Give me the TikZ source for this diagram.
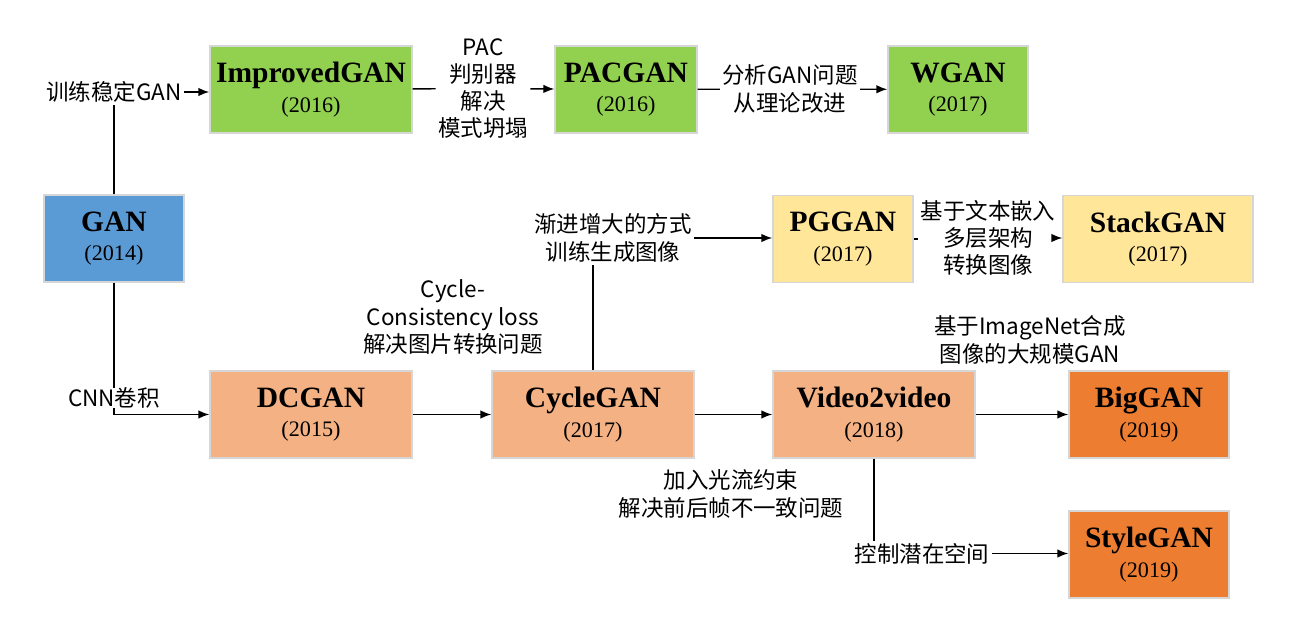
\documentclass[tikz,border=0pt]{standalone}
\usepackage{fontspec}
\setmainfont{Liberation Serif}
\newfontfamily\cjk{Noto Sans CJK SC}
\usetikzlibrary{arrows.meta}
\definecolor{gblue}{HTML}{5B9BD5}
\definecolor{ggreen}{HTML}{92D050}
\definecolor{gyellow}{HTML}{FFE699}
\definecolor{gsalmon}{HTML}{F4B183}
\definecolor{gorange}{HTML}{ED7D31}
\definecolor{gline}{HTML}{D6D6D6}
\newcommand{\mname}[1]{{\fontsize{16.8}{20}\selectfont\bfseries #1}}

\begin{document}
\begin{tikzpicture}[>={Latex[length=2.2mm,width=1.7mm]}, line width=0.8pt,
    model/.style={draw=gline, line width=0.8pt, align=center, inner sep=0pt,
      minimum height=1.74cm, font=\fontsize{12.6}{16.8}\selectfont},
    note/.style={align=center, inner sep=1pt, font=\cjk\fontsize{12.8}{15.5}\selectfont}]
    \useasboundingbox (0,0) rectangle (26.06,-12.68);
    % models
    \node[model, fill=gblue, minimum width=2.8cm] (gan) at (2.28,-4.77) {\mname{GAN}\\(2014)};
    \node[model, fill=ggreen, minimum width=4.04cm] (improved) at (6.22,-1.79) {\mname{ImprovedGAN}\\(2016)};
    \node[model, fill=ggreen, minimum width=2.84cm] (pacgan) at (12.52,-1.79) {\mname{PACGAN}\\(2016)};
    \node[model, fill=ggreen, minimum width=2.8cm] (wgan) at (19.16,-1.79) {\mname{WGAN}\\(2017)};
    \node[model, fill=gyellow, minimum width=2.8cm] (pggan) at (16.86,-4.78) {\mname{PGGAN}\\(2017)};
    \node[model, fill=gyellow, minimum width=3.8cm] (stackgan) at (23.16,-4.78) {\mname{StackGAN}\\(2017)};
    \node[model, fill=gsalmon, minimum width=4.04cm] (dcgan) at (6.22,-8.29) {\mname{DCGAN}\\(2015)};
    \node[model, fill=gsalmon, minimum width=4.04cm] (cyclegan) at (11.86,-8.29) {\mname{CycleGAN}\\(2017)};
    \node[model, fill=gsalmon, minimum width=4.04cm] (vid) at (17.48,-8.29) {\mname{Video2video}\\(2018)};
    \node[model, fill=gorange, minimum width=3.2cm] (biggan) at (22.98,-8.29) {\mname{BigGAN}\\(2019)};
    \node[model, fill=gorange, minimum width=3.2cm] (stylegan) at (22.98,-11.09) {\mname{StyleGAN}\\(2019)};
    % notes
    \node[note] (stable) at (2.28,-1.84) {训练稳定GAN};
    \node[note] (pac) at (9.66,-1.77) {PAC\\判别器\\解决\\模式坍塌};
    \node[note] (theory) at (15.8,-1.78) {分析GAN问题\\从理论改进};
    \node[note] (prog) at (12.26,-4.76) {渐进增大的方式\\训练生成图像};
    \node[note] (textemb) at (19.76,-4.76) {基于文本嵌入\\多层架构\\转换图像};
    \node[note] (cycle) at (9.06,-6.34) {Cycle-\\Consistency loss\\解决图片转换问题};
    \node[note] (imagenet) at (20.6,-6.8) {基于ImageNet合成\\图像的大规模GAN};
    \node[note] (flow) at (14.62,-9.88) {加入光流约束\\解决前后帧不一致问题};
    \node[note] (latent) at (18.44,-11.07) {控制潜在空间};
    % connectors
    \draw (gan) -- (stable);
    \draw[->] (stable) -- (stable.east -| improved.west);
    \draw (improved) -- (pac);
    \draw[->] (pac) -- (pacgan);
    \draw (pacgan) -- (theory);
    \draw[->] (theory) -- (wgan);
    \draw[->] (gan) |- (dcgan);
    \node[note, fill=white, inner sep=0pt] (cnn) at (2.28,-7.96) {CNN卷积};
    \draw[->] (dcgan) -- (cyclegan);
    \draw[->] (cyclegan) -- (vid);
    \draw[->] (vid) -- (biggan);
    \draw (cyclegan) -- (cyclegan |- prog.south);
    \draw[->] (prog.east) -- (prog.east -| pggan.west);
    \draw (pggan.east) -- (pggan.east -| textemb.west);
    \draw[->] (textemb.east) -- (textemb.east -| stackgan.west);
    \draw (vid) -- (vid |- latent.north);
    \draw[->] (latent.east) -- (latent.east -| stylegan.west);
\end{tikzpicture}
\end{document}
